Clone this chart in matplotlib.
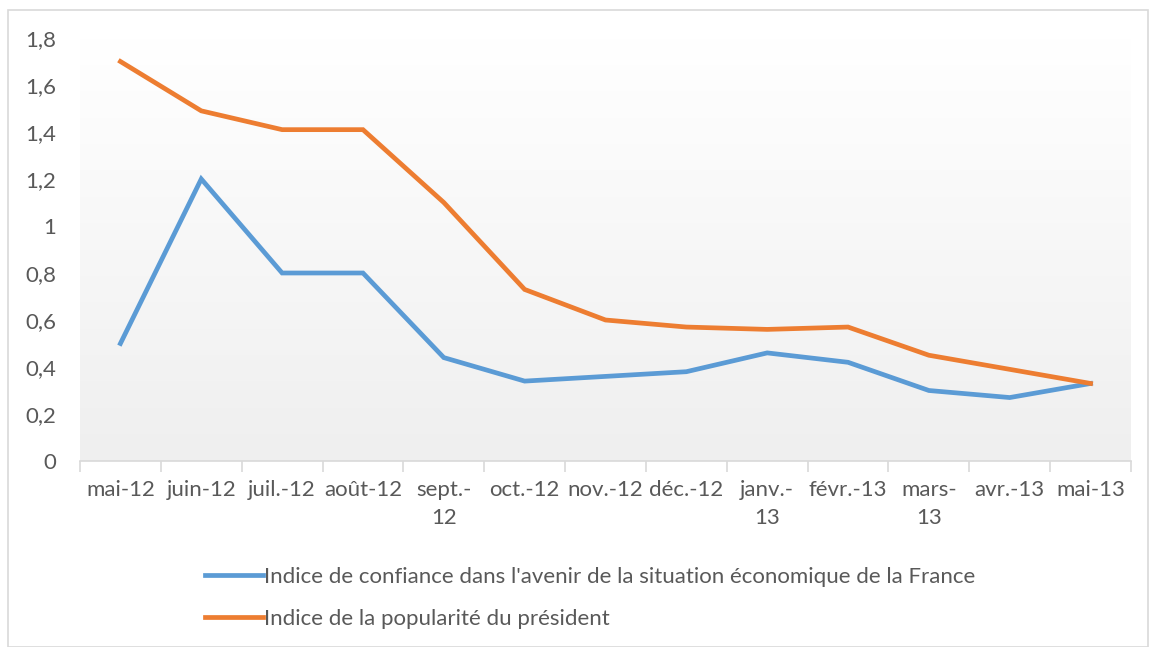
import matplotlib
matplotlib.use("Agg")
import matplotlib.pyplot as plt
import numpy as np
from matplotlib.lines import Line2D
from matplotlib.patches import Rectangle
from matplotlib.colors import LinearSegmentedColormap

categories = ["mai-12", "juin-12", "juil.-12", "août-12", "sept.-\n12", "oct.-12",
              "nov.-12", "déc.-12", "janv.-\n13", "févr.-13", "mars-\n13", "avr.-13", "mai-13"]
confiance = [0.50, 1.20, 0.80, 0.80, 0.44, 0.34, 0.36, 0.38, 0.46, 0.42, 0.30, 0.27, 0.33]
popularite = [1.70, 1.49, 1.41, 1.41, 1.10, 0.73, 0.60, 0.57, 0.56, 0.57, 0.45, 0.39, 0.33]
yticks = [0, 0.2, 0.4, 0.6, 0.8, 1.0, 1.2, 1.4, 1.6, 1.8]
ytick_labels = ["0", "0,2", "0,4", "0,6", "0,8", "1", "1,2", "1,4", "1,6", "1,8"]
label_conf = "Indice de confiance dans l'avenir de la situation économique de la France"
label_pop = "Indice de la popularité du président"

plt.rcParams['font.family'] = ['Lato', 'DejaVu Sans']
W, H = 1154, 647
FS = 16
fig = plt.figure(figsize=(W / 100, H / 100), dpi=100)

# outer border
fig.patches.append(Rectangle((8 / W, 0), (1148 - 8) / W, (H - 10) / H, transform=fig.transFigure,
                             fill=False, edgecolor="#d9d9d9", linewidth=1.2))

ax_left, ax_right = 80, 1131
ax_top, ax_bottom = 38, 461
ax = fig.add_axes([ax_left / W, 1 - ax_bottom / H, (ax_right - ax_left) / W, (ax_bottom - ax_top) / H])

n = len(categories)
x = np.arange(n)
ax.set_xlim(-0.5, n - 0.5)
ax.set_ylim(0, 1.8)

# gradient background
grad = np.linspace(0, 1, 256).reshape(-1, 1)
cmap = LinearSegmentedColormap.from_list("g", ["#efefef", "#ffffff"])
ax.imshow(grad, extent=[-0.5, n - 0.5, 0, 1.8], origin="lower", aspect="auto", cmap=cmap, zorder=0)

ax.plot(x, confiance, color="#5b9bd5", linewidth=3.4, solid_joinstyle="miter", zorder=3)
ax.plot(x, popularite, color="#ed7d31", linewidth=3.4, solid_joinstyle="miter", zorder=3)

for s in ["top", "right", "left"]:
    ax.spines[s].set_visible(False)
ax.spines["bottom"].set_color("#d9d9d9")
ax.spines["bottom"].set_linewidth(1.2)

ax.set_yticks(yticks)
ax.set_yticklabels(ytick_labels)
ax.tick_params(axis="y", length=0, pad=17, labelsize=FS, labelcolor="#595959")

ax.set_xticks(x)
ax.set_xticklabels(categories, linespacing=1.5)
ax.tick_params(axis="x", length=0, pad=14, labelsize=FS, labelcolor="#595959")
ax.set_xticks(np.arange(-0.5, n, 1), minor=True)
ax.tick_params(axis="x", which="minor", length=8, color="#d9d9d9", width=1.2)

# legend
handles = [Line2D([], [], color="#5b9bd5", linewidth=3.4),
           Line2D([], [], color="#ed7d31", linewidth=3.4)]
fig.legend(handles, [label_conf, label_pop], loc="upper left",
           bbox_to_anchor=(185 / W, 1 - 547 / H), frameon=False, fontsize=FS,
           labelcolor="#595959", handlelength=2.6, handletextpad=0.05, labelspacing=1.0)

fig.savefig("out.png", dpi=100)
